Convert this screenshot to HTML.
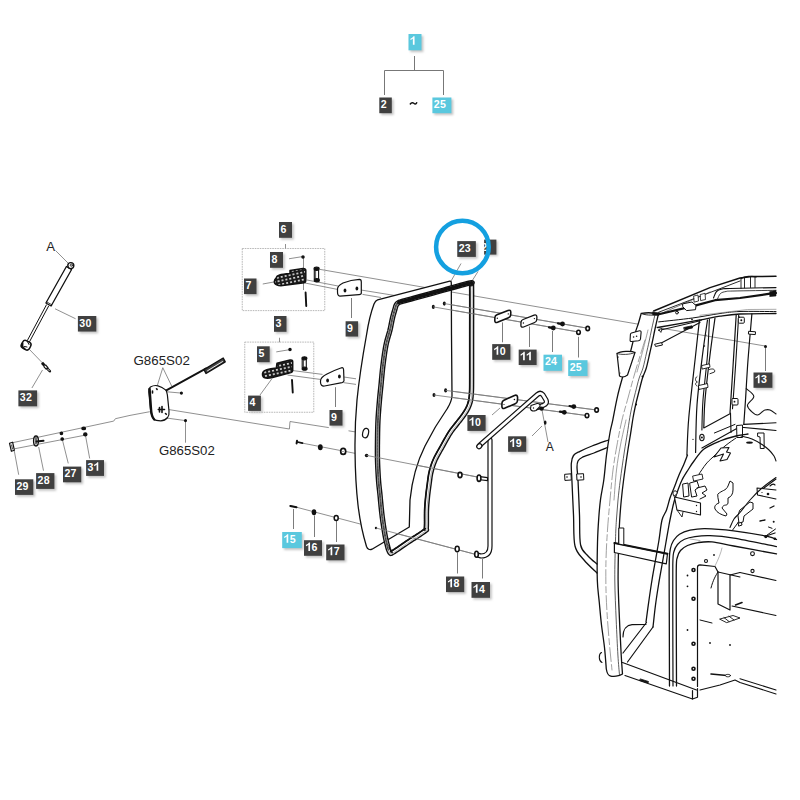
<!DOCTYPE html>
<html><head><meta charset="utf-8"><style>
html,body{margin:0;padding:0;background:#fff;width:800px;height:800px;overflow:hidden}
svg{display:block}
.lt{font-family:"Liberation Sans",sans-serif;font-size:11.8px;font-weight:bold;fill:#fff;text-anchor:start}
.tx{font-family:"Liberation Sans",sans-serif;fill:#222}
</style></head><body>
<svg width="800" height="800" viewBox="0 0 800 800">
<defs><filter id="blur" x="-20%" y="-20%" width="140%" height="140%"><feGaussianBlur stdDeviation="0.8"/></filter>
<pattern id="grid" width="4" height="3.6" patternUnits="userSpaceOnUse" patternTransform="rotate(-12)"><rect width="4" height="3.6" fill="#1a1a1a"/><rect x="1.1" y="1" width="1.8" height="1.5" fill="#fff"/></pattern>
<clipPath id="clip23b"><rect x="484.1" y="239.6" width="12.3" height="15"/></clipPath></defs>
<g fill="none" stroke="#7c7c7c" stroke-width="0.85">
<!-- top tree -->
<path d="M414.5,56 V70.5 M384.5,70.5 H443.5 M384.5,70.5 V95 M443.5,70.5 V95" stroke="#777" stroke-width="1"/>
<!-- strut leaders -->
<path d="M55.6,250.6 L68.1,263.1 M55,308.75 L75.6,318.75 M29.4,349.4 L42.5,363 M42.5,370 L31.9,388"/>
<!-- sensor -->
<path d="M162.8,367.7 L157.3,385.6 M162.8,367.7 L171.8,386.3 M167,391.8 L181.4,393.1 M166.3,418 L185.5,420.6 L185.5,442.7"/>
<path d="M169,409.6 L289.4,429 L290,421.5 L328.8,427.6 M348.5,430.8 L357,432.2"/>
<path d="M13,442.6 L113.7,421.1 L115.4,418.7 L130,415.4 L149.8,411.7"/>
<path d="M14.6,448.75 L86,435 M14.3,451 L18.7,474.75 M38.7,447 L43.5,470.7 M62.2,439 L68.25,463.4 M85.3,434.4 L89.7,458.5"/>
<!-- pedal boxes -->
<rect x="242.25" y="248.5" width="82.5" height="62.1" stroke-dasharray="1.6,0.9" stroke="#999" stroke-width="0.7"/>
<rect x="244.75" y="342.1" width="69" height="70.15" stroke-dasharray="1.6,0.9" stroke="#999" stroke-width="0.7"/>
<path d="M285.5,244 V248.5 M289,258.75 L302.5,256.6 M303.5,257 V290 M262.75,284 L273.75,282"/>
<path d="M279.5,337.75 V342.25 M276.25,351.9 L290,349.6 M271.9,378.75 L260,395"/>
<!-- long lines from pedal box 1 -->
<path d="M320,269.4 L765,346"/>
<path d="M307,280 L338,286 M361,290 L398,296"/>
<path d="M305,283 L337.5,289.4 M362.5,294.4 L381,297.5"/>
<!-- lower pedal lines -->
<path d="M293,370.6 L322.5,374.4 M287.5,375 L320.2,379.4 M343.9,377 L356,378.8 M343.9,382.7 L356,384.4"/>
<path stroke-width="1" d="M351.5,298 V318 M335.5,387.2 V407"/>
<!-- door hole lines -->
<path d="M444.6,303.6 L587.5,328.2 M433.3,306.9 L578.5,332"/>
<path d="M445.6,390.4 L596.6,410 M434,395 L587,415.6"/>
<path d="M296.5,442 L482.5,478 M290,505.5 L476,554.5"/>
<!-- leaders right -->
<path stroke-width="1" d="M502.5,322.4 V342.3 M529.5,326.5 V347 M552.5,331 V352 M578.5,336.8 V357.5 M765.5,348 V371"/>
<path d="M500,408 L492,415 M532,436 L542,426 M542,410 L548,442"/>
<path stroke-width="1" d="M293.5,509 V529 M314.5,515.5 V537 M336.5,521 V542 M457.5,552.5 V573.5 M482.5,559 V578.5"/>
<path d="M461,263.5 L450.5,282 M478,271.5 L472,281"/>

</g>
<g fill="none" stroke="#111" stroke-width="1.3" stroke-linejoin="round" stroke-linecap="round">
<!-- strut 30 -->
<path d="M71.6,269.5 L66.4,266.5 L45.9,303 L51.1,306 Z" fill="#fff"/>
<path d="M46.6,301.8 L51.8,304.8" stroke-width="0.8"/>
<circle cx="70.8" cy="265.6" r="3" fill="#fff" stroke-width="1.4"/>
<circle cx="71.3" cy="265.2" r="1.1" stroke-width="0.8"/>
<path d="M48.6,306.1 L29.6,341.6 M46.4,304.9 L27.4,340.4" stroke-width="1"/>
<rect x="21.6" y="341" width="9" height="8.4" rx="3" transform="rotate(28 26.1 345.2)" fill="#fff" stroke-width="1.5"/>
<path d="M22.5,343.5 C22,346 23,348 24.5,348.6" stroke-width="2"/>
<path d="M27.5,341.8 L29,344.5 M24.5,346.5 L27,347" stroke-width="1"/>
<path d="M42,362.8 L44.5,365.5" stroke-width="2.8" stroke-linecap="butt"/>
<path d="M44.5,365.5 L47.3,368.6" stroke-width="3.6" stroke-linecap="butt"/>
<path d="M45.2,366.3 L46.7,368" stroke="#fff" stroke-width="1.2"/>
<path d="M47.3,368.6 L49.8,371.2" stroke-width="2.6" stroke-linecap="round"/>
<path d="M47.8,369.2 L49.3,370.7" stroke="#fff" stroke-width="0.8"/>
<!-- sensor G865S02 -->
<path d="M150.4,387 C153,385.5 156,385.3 158,385.8 C161,386.5 164,388.5 166.3,390.4 C167.5,394 167.8,397 168,401 L169,411 C169.3,414 168.8,416 167.6,417.5 C165.5,420 163,420.8 160.8,420.8 C157.5,420.8 155,420.3 153.9,419.3 C151.5,416 150.6,412 150.4,408.3 L148.8,392 C148.6,389.5 149.2,388 150.4,387 Z" fill="#fff" stroke-width="1.2"/>
<path d="M149.6,389 L151,409 C151.3,414 152.3,417.5 154.2,419.5" stroke-width="2.4"/>
<path d="M158.3,409.5 L164.5,409.5 M159.5,407.5 L159.5,412 M162,406.5 L162,412.5 M152.5,393 L152.5,391 M165.5,413.5 l0.8,0.8 M156.5,388.8 l0.6,0.6" stroke-width="1.6"/>
<path d="M166.3,390.4 L206.2,368.4" stroke-width="1.9"/>
<path d="M206,373.5 L204,369.6 L223.2,358 L225.2,361.9 Z" fill="#444" stroke-width="1.4"/>
<path d="M207.5,370.8 L222.5,361.6" stroke="#fff" stroke-width="0.9"/>
<circle cx="181.4" cy="393.1" r="0.9" fill="#111"/>
<circle cx="185.5" cy="420.6" r="0.9" fill="#111"/>
<!-- 29 28 27 31 -->
<path d="M9.5,443.2 L12.6,442.2 L14.4,450.3 L11.4,451.3 Z" fill="#fff" stroke-width="1.2"/>
<path d="M11.6,445 L12.5,449" stroke-width="0.8"/>
<ellipse cx="36" cy="441" rx="2.4" ry="5" fill="#fff" stroke-width="1.4"/>
<path d="M36.5,441.5 L43.5,440.8" stroke-width="2"/>
<path d="M36,437.5 L36,444" stroke-width="1.2"/>
<circle cx="61.4" cy="433.3" r="1.2" fill="#111"/>
<circle cx="62.2" cy="439" r="1.2" fill="#111"/>
<ellipse cx="83.7" cy="428.4" rx="1.8" ry="1.3" fill="#111"/>
<ellipse cx="85.3" cy="434.4" rx="1.6" ry="1.4" fill="#111"/>
<!-- pedal 7 -->
<path d="M276,278 C277,275 280,274.5 290,273.6 L290,270.6 L303,268.6 C305,268.6 305.8,269.5 305.8,270.5 L305.8,280.5 C305.8,282 304,283 302.5,283.1 L282.5,285.6 C278,286 274,284.5 274.3,281.5 C274.4,280 275,279 276,278 Z" fill="url(#grid)" stroke-width="1.5"/>
<path d="M314.3,270 L314.3,279 M318.6,270 L318.6,279.5" stroke-width="1.1"/>
<path d="M315.6,270.5 L315.6,278.5" stroke-width="0.7"/>
<ellipse cx="316.6" cy="268.8" rx="2.5" ry="1.6" fill="#111"/>
<ellipse cx="316.8" cy="280.3" rx="2.5" ry="1.6" fill="#111"/>
<path d="M305.6,292.5 L306.25,306" stroke-width="1.9"/>
<circle cx="303" cy="257" r="1.1" fill="#111"/>
<!-- pedal 4 -->
<path d="M263,372 C264,370 267,369 276.3,368 L277,363.2 L290,360 C291.5,359.8 292.7,360.3 292.7,361.5 L292.7,370.5 C292.7,371.5 292,372.3 291,372.6 L272.5,377.5 C268,378.5 263.5,378.5 262.6,375.5 C262.3,374.3 262.5,373 263,372 Z" fill="url(#grid)" stroke-width="1.5"/>
<path d="M302.2,359.3 L302.2,367.3 M306.3,359.3 L306.3,367.8" stroke-width="1.1"/>
<path d="M303.5,359.8 L303.5,367" stroke-width="0.7"/>
<ellipse cx="304.4" cy="358.3" rx="2.4" ry="1.5" fill="#111"/>
<ellipse cx="304.6" cy="368.7" rx="2.4" ry="1.5" fill="#111"/>
<path d="M292,380 L292.75,392.5" stroke-width="1.9"/>
<circle cx="290" cy="349.6" r="1.1" fill="#111"/>
<!-- plates 9 -->
<path d="M337.5,290 C337,287 339,285 343,283 C349,280.5 355,279.5 359.5,279.3 C361,279.3 361.3,280.5 361.3,282 L361.3,293 C361.3,294.2 360.5,294.5 359,294.6 L340,296.2 C338.3,296.3 337.5,294.5 337.5,292 Z" fill="#fff" stroke-width="1.2"/>
<ellipse cx="345" cy="290.6" rx="1.4" ry="2" fill="#111" stroke="none"/>
<ellipse cx="356.9" cy="288.5" rx="1.4" ry="2" fill="#111" stroke="none"/>
<path d="M320.5,381 C320.5,378 323,376 327,374 C333,371 338,369 341.5,367.8 C343,367.4 343.5,368.5 343.6,370 L344,380.5 C344,381.8 343.3,382.3 342,382.6 L324.5,386 C322,386.3 320.5,385 320.5,382 Z" fill="#fff" stroke-width="1.2"/>
<ellipse cx="327.6" cy="380.5" rx="1.4" ry="2" fill="#111" stroke="none"/>
<ellipse cx="339.4" cy="376.6" rx="1.4" ry="2" fill="#111" stroke="none"/>

</g>
<g fill="none" stroke="#111" stroke-width="1.3" stroke-linejoin="round" stroke-linecap="round">
<path d="M377.6,299.8 L449.8,281.2 C451,281 451.3,282 451.3,283.3 L451.5,335 L452,396 C451.5,402 449.5,405 447,409 C440,419 432,432 425,446 C417,462 412,480 410,500 L409.3,527 L372,549.2 C369.5,550.5 367.5,549 366.5,546.5 C363,535 360,522 358,505 C356,488 355.2,470 355,450 C354.8,430 355.6,415 357,400 C359,380 362,360 366.5,335 C368.5,322 371,312 374,304 C375,301.5 376,300.3 377.6,299.8 Z" fill="#fff" stroke-width="1.3"/>
<path d="M398.50,302.80 L398.73,302.65 L398.80,302.56 L398.78,302.51 L398.77,302.47 L398.82,302.42 L399.04,302.34 L399.48,302.20 L400.24,301.98 L401.39,301.66 L403.00,301.20 L405.15,300.60 L407.78,299.87 L410.81,299.04 L414.15,298.13 L417.72,297.16 L421.43,296.16 L425.20,295.13 L428.94,294.12 L432.57,293.13 L436.00,292.20 L439.44,291.26 L443.10,290.24 L446.88,289.18 L450.69,288.12 L454.44,287.07 L458.03,286.08 L461.38,285.16 L464.38,284.36 L466.96,283.69 L469.00,283.20 L470.46,282.88 L471.41,282.72 L471.92,282.69 L472.10,282.77 L472.02,282.93 L471.79,283.15 L471.48,283.42 L471.19,283.69 L471.00,283.96 L471.00,284.20 L471.12,284.24 L471.22,284.01 L471.30,283.63 L471.37,283.23 L471.43,282.94 L471.47,282.89 L471.51,283.19 L471.54,283.97 L471.57,285.37 L471.60,287.50 L471.62,290.47 L471.64,294.21 L471.64,298.58 L471.64,303.44 L471.64,308.64 L471.63,314.06 L471.62,319.54 L471.61,324.95 L471.60,330.15 L471.60,335.00 L471.60,339.75 L471.60,344.69 L471.61,349.72 L471.61,354.76 L471.61,359.72 L471.61,364.50 L471.61,369.00 L471.61,373.15 L471.61,376.85 L471.60,380.00 L471.59,382.55 L471.58,384.58 L471.57,386.15 L471.56,387.37 L471.55,388.31 L471.53,389.07 L471.51,389.73 L471.48,390.38 L471.45,391.11 L471.40,392.00 L471.35,392.97 L471.29,393.89 L471.24,394.76 L471.17,395.58 L471.10,396.38 L471.02,397.14 L470.93,397.87 L470.83,398.59 L470.72,399.30 L470.60,400.00 L470.47,400.68 L470.32,401.34 L470.16,401.96 L470.00,402.57 L469.83,403.16 L469.64,403.73 L469.44,404.30 L469.24,404.86 L469.03,405.43 L468.80,406.00 L468.57,406.57 L468.33,407.12 L468.09,407.66 L467.83,408.19 L467.57,408.72 L467.29,409.25 L467.00,409.79 L466.68,410.34 L466.35,410.91 L466.00,411.50 L465.62,412.11 L465.22,412.73 L464.81,413.36 L464.37,414.00 L463.92,414.66 L463.45,415.32 L462.98,415.98 L462.49,416.65 L462.00,417.33 L461.50,418.00 L460.99,418.68 L460.47,419.35 L459.94,420.03 L459.40,420.72 L458.84,421.41 L458.28,422.10 L457.72,422.81 L457.15,423.53 L456.57,424.26 L456.00,425.00 L455.43,425.73 L454.86,426.44 L454.30,427.14 L453.73,427.84 L453.16,428.56 L452.57,429.32 L451.96,430.13 L451.34,431.00 L450.68,431.95 L450.00,433.00 L449.28,434.16 L448.51,435.43 L447.72,436.79 L446.90,438.22 L446.06,439.69 L445.22,441.18 L444.39,442.68 L443.57,444.17 L442.77,445.61 L442.00,447.00 L441.25,448.35 L440.49,449.68 L439.73,451.00 L438.98,452.32 L438.25,453.62 L437.54,454.92 L436.85,456.20 L436.19,457.48 L435.57,458.75 L435.00,460.00 L434.47,461.24 L433.98,462.45 L433.52,463.64 L433.09,464.82 L432.69,466.00 L432.31,467.18 L431.96,468.36 L431.62,469.55 L431.31,470.76 L431.00,472.00 L430.72,473.26 L430.46,474.55 L430.24,475.86 L430.03,477.18 L429.84,478.50 L429.67,479.82 L429.50,481.14 L429.34,482.45 L429.17,483.74 L429.00,485.00 L428.83,486.24 L428.66,487.45 L428.50,488.64 L428.34,489.82 L428.19,491.00 L428.04,492.18 L427.90,493.36 L427.76,494.55 L427.63,495.76 L427.50,497.00 L427.38,498.24 L427.26,499.46 L427.14,500.68 L427.03,501.91 L426.92,503.16 L426.82,504.43 L426.73,505.74 L426.64,507.10 L426.57,508.51 L426.50,510.00 L426.45,511.63 L426.43,513.44 L426.42,515.36 L426.42,517.35 L426.43,519.34 L426.44,521.29 L426.43,523.14 L426.41,524.82 L426.37,526.30 L426.30,527.50 L426.27,528.39 L426.31,528.98 L426.40,529.36 L426.48,529.57 L426.52,529.69 L426.49,529.77 L426.34,529.88 L426.04,530.08 L425.54,530.43 L424.80,531.00 L423.80,531.77 L422.56,532.65 L421.12,533.63 L419.52,534.68 L417.81,535.79 L416.02,536.94 L414.21,538.11 L412.40,539.27 L410.65,540.41 L409.00,541.50 L407.35,542.61 L405.60,543.81 L403.80,545.04 L401.98,546.29 L400.18,547.52 L398.45,548.71 L396.83,549.81 L395.35,550.79 L394.06,551.64 L393.00,552.30 L392.19,552.78 L391.59,553.12 L391.18,553.33 L390.92,553.42 L390.76,553.43 L390.68,553.37 L390.62,553.25 L390.57,553.11 L390.47,552.95 L390.30,552.80 L390.08,552.62 L389.87,552.39 L389.67,552.10 L389.48,551.76 L389.29,551.40 L389.12,551.02 L388.95,550.62 L388.79,550.23 L388.64,549.86 L388.50,549.50 L388.37,549.19 L388.27,548.93 L388.19,548.70 L388.11,548.47 L388.04,548.23 L387.97,547.95 L387.89,547.61 L387.78,547.18 L387.66,546.65 L387.50,546.00 L387.31,545.24 L387.10,544.42 L386.88,543.53 L386.63,542.57 L386.38,541.53 L386.11,540.41 L385.83,539.20 L385.56,537.90 L385.28,536.50 L385.00,535.00 L384.72,533.36 L384.42,531.58 L384.11,529.66 L383.79,527.65 L383.47,525.56 L383.15,523.43 L382.84,521.28 L382.54,519.14 L382.26,517.04 L382.00,515.00 L381.76,512.98 L381.53,510.92 L381.31,508.84 L381.10,506.76 L380.91,504.69 L380.72,502.64 L380.53,500.63 L380.35,498.68 L380.18,496.80 L380.00,495.00 L379.83,493.32 L379.66,491.76 L379.50,490.29 L379.34,488.88 L379.19,487.50 L379.04,486.12 L378.90,484.71 L378.76,483.24 L378.63,481.68 L378.50,480.00 L378.38,478.20 L378.25,476.32 L378.13,474.37 L378.02,472.36 L377.91,470.31 L377.80,468.24 L377.71,466.16 L377.63,464.08 L377.56,462.02 L377.50,460.00 L377.46,458.00 L377.43,456.00 L377.41,454.00 L377.40,452.00 L377.41,450.00 L377.42,448.00 L377.43,446.00 L377.45,444.00 L377.48,442.00 L377.50,440.00 L377.53,438.00 L377.55,436.00 L377.58,434.00 L377.62,432.00 L377.66,430.00 L377.70,428.00 L377.76,426.00 L377.83,424.00 L377.91,422.00 L378.00,420.00 L378.11,417.98 L378.24,415.92 L378.38,413.84 L378.53,411.76 L378.69,409.69 L378.85,407.64 L379.02,405.63 L379.18,403.68 L379.35,401.80 L379.50,400.00 L379.65,398.32 L379.79,396.76 L379.93,395.29 L380.08,393.88 L380.22,392.50 L380.36,391.12 L380.51,389.71 L380.67,388.24 L380.83,386.68 L381.00,385.00 L381.18,383.20 L381.35,381.32 L381.53,379.37 L381.72,377.36 L381.91,375.31 L382.10,373.24 L382.31,371.16 L382.53,369.08 L382.76,367.02 L383.00,365.00 L383.26,362.98 L383.52,360.92 L383.79,358.84 L384.08,356.76 L384.38,354.69 L384.68,352.64 L385.00,350.63 L385.32,348.68 L385.66,346.80 L386.00,345.00 L386.37,343.28 L386.76,341.63 L387.17,340.04 L387.60,338.50 L388.03,337.00 L388.46,335.54 L388.88,334.12 L389.28,332.73 L389.66,331.36 L390.00,330.00 L390.31,328.67 L390.60,327.36 L390.86,326.08 L391.11,324.84 L391.34,323.62 L391.57,322.44 L391.80,321.28 L392.02,320.16 L392.26,319.06 L392.50,318.00 L392.76,316.96 L393.02,315.93 L393.29,314.92 L393.56,313.94 L393.82,313.00 L394.09,312.10 L394.34,311.24 L394.58,310.43 L394.80,309.68 L395.00,309.00 L395.17,308.39 L395.32,307.85 L395.45,307.38 L395.56,306.95 L395.67,306.57 L395.77,306.23 L395.88,305.91 L396.00,305.60 L396.14,305.30 L396.30,305.00 L396.47,304.70 L396.65,304.44 L396.82,304.19 L397.00,303.96 L397.20,303.75 L397.41,303.55 L397.64,303.36 L397.90,303.17 L398.18,302.99 Z" stroke-width="5.4"/>
<path d="M398.50,302.80 L398.73,302.65 L398.80,302.56 L398.78,302.51 L398.77,302.47 L398.82,302.42 L399.04,302.34 L399.48,302.20 L400.24,301.98 L401.39,301.66 L403.00,301.20 L405.15,300.60 L407.78,299.87 L410.81,299.04 L414.15,298.13 L417.72,297.16 L421.43,296.16 L425.20,295.13 L428.94,294.12 L432.57,293.13 L436.00,292.20 L439.44,291.26 L443.10,290.24 L446.88,289.18 L450.69,288.12 L454.44,287.07 L458.03,286.08 L461.38,285.16 L464.38,284.36 L466.96,283.69 L469.00,283.20 L470.46,282.88 L471.41,282.72 L471.92,282.69 L472.10,282.77 L472.02,282.93 L471.79,283.15 L471.48,283.42 L471.19,283.69 L471.00,283.96 L471.00,284.20 L471.12,284.24 L471.22,284.01 L471.30,283.63 L471.37,283.23 L471.43,282.94 L471.47,282.89 L471.51,283.19 L471.54,283.97 L471.57,285.37 L471.60,287.50 L471.62,290.47 L471.64,294.21 L471.64,298.58 L471.64,303.44 L471.64,308.64 L471.63,314.06 L471.62,319.54 L471.61,324.95 L471.60,330.15 L471.60,335.00 L471.60,339.75 L471.60,344.69 L471.61,349.72 L471.61,354.76 L471.61,359.72 L471.61,364.50 L471.61,369.00 L471.61,373.15 L471.61,376.85 L471.60,380.00 L471.59,382.55 L471.58,384.58 L471.57,386.15 L471.56,387.37 L471.55,388.31 L471.53,389.07 L471.51,389.73 L471.48,390.38 L471.45,391.11 L471.40,392.00 L471.35,392.97 L471.29,393.89 L471.24,394.76 L471.17,395.58 L471.10,396.38 L471.02,397.14 L470.93,397.87 L470.83,398.59 L470.72,399.30 L470.60,400.00 L470.47,400.68 L470.32,401.34 L470.16,401.96 L470.00,402.57 L469.83,403.16 L469.64,403.73 L469.44,404.30 L469.24,404.86 L469.03,405.43 L468.80,406.00 L468.57,406.57 L468.33,407.12 L468.09,407.66 L467.83,408.19 L467.57,408.72 L467.29,409.25 L467.00,409.79 L466.68,410.34 L466.35,410.91 L466.00,411.50 L465.62,412.11 L465.22,412.73 L464.81,413.36 L464.37,414.00 L463.92,414.66 L463.45,415.32 L462.98,415.98 L462.49,416.65 L462.00,417.33 L461.50,418.00 L460.99,418.68 L460.47,419.35 L459.94,420.03 L459.40,420.72 L458.84,421.41 L458.28,422.10 L457.72,422.81 L457.15,423.53 L456.57,424.26 L456.00,425.00 L455.43,425.73 L454.86,426.44 L454.30,427.14 L453.73,427.84 L453.16,428.56 L452.57,429.32 L451.96,430.13 L451.34,431.00 L450.68,431.95 L450.00,433.00 L449.28,434.16 L448.51,435.43 L447.72,436.79 L446.90,438.22 L446.06,439.69 L445.22,441.18 L444.39,442.68 L443.57,444.17 L442.77,445.61 L442.00,447.00 L441.25,448.35 L440.49,449.68 L439.73,451.00 L438.98,452.32 L438.25,453.62 L437.54,454.92 L436.85,456.20 L436.19,457.48 L435.57,458.75 L435.00,460.00 L434.47,461.24 L433.98,462.45 L433.52,463.64 L433.09,464.82 L432.69,466.00 L432.31,467.18 L431.96,468.36 L431.62,469.55 L431.31,470.76 L431.00,472.00 L430.72,473.26 L430.46,474.55 L430.24,475.86 L430.03,477.18 L429.84,478.50 L429.67,479.82 L429.50,481.14 L429.34,482.45 L429.17,483.74 L429.00,485.00 L428.83,486.24 L428.66,487.45 L428.50,488.64 L428.34,489.82 L428.19,491.00 L428.04,492.18 L427.90,493.36 L427.76,494.55 L427.63,495.76 L427.50,497.00 L427.38,498.24 L427.26,499.46 L427.14,500.68 L427.03,501.91 L426.92,503.16 L426.82,504.43 L426.73,505.74 L426.64,507.10 L426.57,508.51 L426.50,510.00 L426.45,511.63 L426.43,513.44 L426.42,515.36 L426.42,517.35 L426.43,519.34 L426.44,521.29 L426.43,523.14 L426.41,524.82 L426.37,526.30 L426.30,527.50 L426.27,528.39 L426.31,528.98 L426.40,529.36 L426.48,529.57 L426.52,529.69 L426.49,529.77 L426.34,529.88 L426.04,530.08 L425.54,530.43 L424.80,531.00 L423.80,531.77 L422.56,532.65 L421.12,533.63 L419.52,534.68 L417.81,535.79 L416.02,536.94 L414.21,538.11 L412.40,539.27 L410.65,540.41 L409.00,541.50 L407.35,542.61 L405.60,543.81 L403.80,545.04 L401.98,546.29 L400.18,547.52 L398.45,548.71 L396.83,549.81 L395.35,550.79 L394.06,551.64 L393.00,552.30 L392.19,552.78 L391.59,553.12 L391.18,553.33 L390.92,553.42 L390.76,553.43 L390.68,553.37 L390.62,553.25 L390.57,553.11 L390.47,552.95 L390.30,552.80 L390.08,552.62 L389.87,552.39 L389.67,552.10 L389.48,551.76 L389.29,551.40 L389.12,551.02 L388.95,550.62 L388.79,550.23 L388.64,549.86 L388.50,549.50 L388.37,549.19 L388.27,548.93 L388.19,548.70 L388.11,548.47 L388.04,548.23 L387.97,547.95 L387.89,547.61 L387.78,547.18 L387.66,546.65 L387.50,546.00 L387.31,545.24 L387.10,544.42 L386.88,543.53 L386.63,542.57 L386.38,541.53 L386.11,540.41 L385.83,539.20 L385.56,537.90 L385.28,536.50 L385.00,535.00 L384.72,533.36 L384.42,531.58 L384.11,529.66 L383.79,527.65 L383.47,525.56 L383.15,523.43 L382.84,521.28 L382.54,519.14 L382.26,517.04 L382.00,515.00 L381.76,512.98 L381.53,510.92 L381.31,508.84 L381.10,506.76 L380.91,504.69 L380.72,502.64 L380.53,500.63 L380.35,498.68 L380.18,496.80 L380.00,495.00 L379.83,493.32 L379.66,491.76 L379.50,490.29 L379.34,488.88 L379.19,487.50 L379.04,486.12 L378.90,484.71 L378.76,483.24 L378.63,481.68 L378.50,480.00 L378.38,478.20 L378.25,476.32 L378.13,474.37 L378.02,472.36 L377.91,470.31 L377.80,468.24 L377.71,466.16 L377.63,464.08 L377.56,462.02 L377.50,460.00 L377.46,458.00 L377.43,456.00 L377.41,454.00 L377.40,452.00 L377.41,450.00 L377.42,448.00 L377.43,446.00 L377.45,444.00 L377.48,442.00 L377.50,440.00 L377.53,438.00 L377.55,436.00 L377.58,434.00 L377.62,432.00 L377.66,430.00 L377.70,428.00 L377.76,426.00 L377.83,424.00 L377.91,422.00 L378.00,420.00 L378.11,417.98 L378.24,415.92 L378.38,413.84 L378.53,411.76 L378.69,409.69 L378.85,407.64 L379.02,405.63 L379.18,403.68 L379.35,401.80 L379.50,400.00 L379.65,398.32 L379.79,396.76 L379.93,395.29 L380.08,393.88 L380.22,392.50 L380.36,391.12 L380.51,389.71 L380.67,388.24 L380.83,386.68 L381.00,385.00 L381.18,383.20 L381.35,381.32 L381.53,379.37 L381.72,377.36 L381.91,375.31 L382.10,373.24 L382.31,371.16 L382.53,369.08 L382.76,367.02 L383.00,365.00 L383.26,362.98 L383.52,360.92 L383.79,358.84 L384.08,356.76 L384.38,354.69 L384.68,352.64 L385.00,350.63 L385.32,348.68 L385.66,346.80 L386.00,345.00 L386.37,343.28 L386.76,341.63 L387.17,340.04 L387.60,338.50 L388.03,337.00 L388.46,335.54 L388.88,334.12 L389.28,332.73 L389.66,331.36 L390.00,330.00 L390.31,328.67 L390.60,327.36 L390.86,326.08 L391.11,324.84 L391.34,323.62 L391.57,322.44 L391.80,321.28 L392.02,320.16 L392.26,319.06 L392.50,318.00 L392.76,316.96 L393.02,315.93 L393.29,314.92 L393.56,313.94 L393.82,313.00 L394.09,312.10 L394.34,311.24 L394.58,310.43 L394.80,309.68 L395.00,309.00 L395.17,308.39 L395.32,307.85 L395.45,307.38 L395.56,306.95 L395.67,306.57 L395.77,306.23 L395.88,305.91 L396.00,305.60 L396.14,305.30 L396.30,305.00 L396.47,304.70 L396.65,304.44 L396.82,304.19 L397.00,303.96 L397.20,303.75 L397.41,303.55 L397.64,303.36 L397.90,303.17 L398.18,302.99 Z" stroke="#fff" stroke-width="2.6"/>
<path d="M470.49,285.82 L472.25,285.51 L472.85,284.49 L472.97,283.95 L473.04,283.53 L473.06,283.42 L469.86,283.43 L469.81,283.30 L469.84,284.02 L469.87,285.40 L469.90,287.52 L469.92,290.48 L469.94,294.22 L469.94,298.58 L469.94,303.44 L469.94,308.64 L469.93,314.06 L469.92,319.54 L469.91,324.95 L469.90,330.15 L469.90,335.00 L469.90,339.75 L469.90,344.69 L469.91,349.72 L469.91,354.77 L469.91,359.72 L469.91,364.50 L469.91,369.00 L469.91,373.15 L469.91,376.84 L469.90,379.99 L469.89,382.55 L469.88,384.57 L469.87,386.14 L469.86,387.35 L469.85,388.28 L469.83,389.02 L469.81,389.67 L469.78,390.30 L469.75,391.02 L469.70,391.91 L469.65,392.88 L469.60,393.78 L469.54,394.63 L469.48,395.44 L469.41,396.21 L469.33,396.95 L469.25,397.66 L469.15,398.35 L469.05,399.02 L468.93,399.69 L468.80,400.33 L468.66,400.95 L468.52,401.54 L468.37,402.10 L468.20,402.65 L468.03,403.20 L467.84,403.73 L467.65,404.27 L467.44,404.82 L467.22,405.37 L467.00,405.91 L466.78,406.43 L466.55,406.94 L466.31,407.44 L466.05,407.95 L465.79,408.45 L465.51,408.97 L465.21,409.50 L464.89,410.05 L464.55,410.61 L464.19,411.20 L463.80,411.80 L463.39,412.41 L462.97,413.04 L462.53,413.68 L462.07,414.33 L461.60,414.99 L461.12,415.65 L460.63,416.32 L460.14,416.98 L459.64,417.65 L459.13,418.31 L458.60,418.98 L458.07,419.66 L457.52,420.34 L456.96,421.04 L456.39,421.75 L455.81,422.47 L455.23,423.21 L454.66,423.96 L454.09,424.68 L453.54,425.37 L452.98,426.07 L452.41,426.78 L451.82,427.51 L451.22,428.29 L450.59,429.12 L449.94,430.02 L449.27,431.01 L448.57,432.09 L447.83,433.27 L447.05,434.56 L446.25,435.94 L445.42,437.37 L444.58,438.85 L443.74,440.36 L442.90,441.86 L442.08,443.34 L441.28,444.79 L440.52,446.17 L439.77,447.51 L439.01,448.84 L438.25,450.16 L437.50,451.48 L436.76,452.80 L436.04,454.11 L435.34,455.41 L434.67,456.72 L434.04,458.02 L433.45,459.31 L432.90,460.58 L432.40,461.82 L431.92,463.05 L431.48,464.26 L431.07,465.47 L430.69,466.67 L430.33,467.89 L429.98,469.11 L429.66,470.34 L429.35,471.61 L429.05,472.91 L428.79,474.24 L428.56,475.58 L428.35,476.93 L428.16,478.27 L427.98,479.60 L427.81,480.93 L427.65,482.23 L427.49,483.51 L427.32,484.77 L427.14,486.00 L426.98,487.22 L426.81,488.42 L426.65,489.60 L426.50,490.78 L426.35,491.97 L426.21,493.16 L426.07,494.36 L425.94,495.58 L425.81,496.83 L425.68,498.07 L425.56,499.30 L425.45,500.53 L425.33,501.76 L425.22,503.02 L425.12,504.30 L425.03,505.62 L424.94,507.00 L424.87,508.43 L424.80,509.94 L424.75,511.60 L424.73,513.42 L424.72,515.36 L424.72,517.35 L424.73,519.35 L424.74,521.29 L424.73,523.13 L424.71,524.79 L424.67,526.23 L424.60,527.42 L424.57,528.40 L424.63,529.21 L424.76,529.83 L424.90,530.19 L424.83,529.79 L425.27,528.59 L425.39,528.47 L425.08,528.67 L424.52,529.07 L423.76,529.65 L422.79,530.40 L421.59,531.25 L420.17,532.21 L418.59,533.26 L416.88,534.37 L415.10,535.51 L413.29,536.68 L411.48,537.84 L409.72,538.98 L408.06,540.09 L406.39,541.21 L404.64,542.40 L402.83,543.64 L401.01,544.89 L399.22,546.12 L397.50,547.30 L395.88,548.40 L394.41,549.38 L393.15,550.20 L392.11,550.85 L391.33,551.32 L390.79,551.62 L390.49,551.78 L390.51,551.77 L391.15,551.77 L392.02,552.33 L392.20,552.61 L392.09,552.35 L391.75,551.83 L391.38,551.49 L391.26,551.40 L391.21,551.34 L391.11,551.19 L390.97,550.96 L390.83,550.67 L390.68,550.33 L390.52,549.97 L390.37,549.60 L390.22,549.22 L390.08,548.86 L389.95,548.56 L389.86,548.33 L389.80,548.15 L389.74,547.97 L389.68,547.78 L389.62,547.53 L389.54,547.21 L389.44,546.79 L389.31,546.26 L389.15,545.60" stroke-width="1.5"/>
<path d="M471.15,283.72 L470.79,283.86 L470.74,283.86 L470.81,283.53 L470.88,283.14 L470.94,282.80 L471.94,282.73 L472.01,283.16 L472.04,283.96 L472.07,285.36 L472.10,287.49 L472.12,290.47 L472.14,294.21 L472.14,298.58 L472.14,303.44 L472.14,308.64 L472.13,314.06 L472.12,319.54 L472.11,324.95 L472.10,330.15 L472.10,335.00 L472.10,339.75 L472.10,344.69 L472.11,349.72 L472.11,354.76 L472.11,359.72 L472.11,364.50 L472.11,369.00 L472.11,373.15 L472.11,376.85 L472.10,380.00 L472.09,382.56 L472.08,384.58 L472.07,386.15 L472.06,387.37 L472.05,388.32 L472.03,389.09 L472.01,389.75 L471.98,390.41 L471.94,391.14 L471.90,392.03 L471.85,393.00 L471.79,393.92 L471.73,394.79 L471.67,395.63 L471.60,396.42 L471.52,397.19 L471.43,397.94 L471.33,398.66 L471.22,399.38 L471.09,400.09 L470.95,400.79 L470.81,401.45 L470.65,402.09 L470.48,402.70 L470.30,403.30 L470.11,403.89 L469.92,404.47 L469.71,405.04 L469.49,405.61 L469.26,406.19 L469.03,406.76 L468.79,407.32 L468.54,407.87 L468.28,408.41 L468.01,408.95 L467.73,409.49 L467.43,410.03 L467.12,410.59 L466.78,411.17 L466.43,411.76 L466.05,412.37 L465.64,413.00 L465.22,413.64 L464.78,414.29 L464.33,414.94 L463.86,415.61 L463.38,416.27 L462.90,416.95 L462.40,417.62 L461.90,418.30 L461.39,418.98 L460.87,419.66 L460.33,420.34 L459.79,421.03 L459.23,421.72 L458.67,422.42 L458.11,423.12 L457.54,423.84 L456.97,424.56 L456.39,425.31 L455.82,426.04 L455.25,426.75 L454.69,427.45 L454.12,428.15 L453.55,428.87 L452.97,429.62 L452.37,430.42 L451.75,431.29 L451.10,432.23 L450.42,433.27 L449.70,434.42 L448.94,435.69 L448.15,437.04 L447.33,438.46 L446.50,439.93 L445.66,441.43 L444.83,442.93 L444.01,444.41 L443.21,445.86 L442.44,447.24 L441.68,448.59 L440.92,449.93 L440.17,451.25 L439.42,452.57 L438.69,453.87 L437.98,455.16 L437.29,456.44 L436.64,457.70 L436.03,458.96 L435.46,460.20 L434.93,461.43 L434.44,462.63 L433.98,463.82 L433.56,464.99 L433.16,466.16 L432.79,467.32 L432.44,468.50 L432.11,469.68 L431.79,470.89 L431.49,472.11 L431.21,473.37 L430.96,474.64 L430.73,475.94 L430.53,477.25 L430.34,478.57 L430.16,479.89 L430.00,481.20 L429.83,482.51 L429.67,483.80 L429.50,485.07 L429.32,486.30 L429.16,487.52 L428.99,488.71 L428.84,489.89 L428.68,491.06 L428.54,492.24 L428.39,493.42 L428.26,494.61 L428.12,495.82 L428.00,497.05 L427.87,498.29 L427.75,499.51 L427.64,500.73 L427.52,501.96 L427.42,503.20 L427.32,504.47 L427.22,505.77 L427.14,507.12 L427.06,508.54 L427.00,510.02 L426.95,511.64 L426.93,513.44 L426.92,515.36 L426.92,517.35 L426.93,519.34 L426.94,521.29 L426.93,523.14 L426.91,524.83 L426.87,526.32 L426.80,527.52 L426.77,528.38 L426.81,528.92 L426.88,529.22 L426.95,529.39 L427.02,529.66 L426.85,530.12 L426.62,530.29 L426.32,530.49 L425.83,530.83 L425.11,531.40 L424.10,532.17 L422.84,533.06 L421.40,534.04 L419.79,535.10 L418.08,536.21 L416.29,537.36 L414.48,538.53 L412.67,539.69 L410.93,540.82 L409.28,541.92 L407.63,543.03 L405.88,544.22 L404.08,545.45 L402.26,546.70 L400.46,547.94 L398.73,549.12 L397.11,550.22 L395.63,551.21 L394.33,552.06 L393.26,552.73 L392.44,553.22 L391.83,553.56 L391.39,553.78 L391.04,553.91 L390.65,553.92 L390.28,553.67 L390.16,553.44 L390.12,553.33 L390.10,553.28 L389.98,553.19 L389.73,552.99 L389.47,552.69 L389.25,552.36 L389.04,552.00 L388.84,551.62 L388.66,551.22 L388.49,550.82 L388.33,550.42 L388.18,550.04 L388.04,549.69 L387.91,549.38 L387.81,549.11 L387.72,548.86 L387.64,548.62 L387.56,548.36 L387.49,548.07 L387.40,547.73 L387.30,547.30 L387.17,546.77 L387.01,546.12" stroke="#666" stroke-width="0.5"/>
<path d="M388.50,549.50 L388.37,549.19 L388.27,548.93 L388.19,548.70 L388.11,548.47 L388.04,548.23 L387.97,547.95 L387.89,547.61 L387.78,547.18 L387.66,546.65 L387.50,546.00 L387.31,545.24 L387.10,544.42 L386.88,543.53 L386.63,542.57 L386.38,541.53 L386.11,540.41 L385.83,539.20 L385.56,537.90 L385.28,536.50 L385.00,535.00 L384.72,533.36 L384.42,531.58 L384.11,529.66 L383.79,527.65 L383.47,525.56 L383.15,523.43 L382.84,521.28 L382.54,519.14 L382.26,517.04 L382.00,515.00 L381.76,512.98 L381.53,510.92 L381.31,508.84 L381.10,506.76 L380.91,504.69 L380.72,502.64 L380.53,500.63 L380.35,498.68 L380.18,496.80 L380.00,495.00 L379.83,493.32 L379.66,491.76 L379.50,490.29 L379.34,488.88 L379.19,487.50 L379.04,486.12 L378.90,484.71 L378.76,483.24 L378.63,481.68 L378.50,480.00 L378.38,478.20 L378.25,476.32 L378.13,474.37 L378.02,472.36 L377.91,470.31 L377.80,468.24 L377.71,466.16 L377.63,464.08 L377.56,462.02 L377.50,460.00 L377.46,458.00 L377.43,456.00 L377.41,454.00 L377.40,452.00 L377.41,450.00 L377.42,448.00 L377.43,446.00 L377.45,444.00 L377.48,442.00 L377.50,440.00 L377.53,438.00 L377.55,436.00 L377.58,434.00 L377.62,432.00 L377.66,430.00 L377.70,428.00 L377.76,426.00 L377.83,424.00 L377.91,422.00 L378.00,420.00 L378.11,417.98 L378.24,415.92 L378.38,413.84 L378.53,411.76 L378.69,409.69 L378.85,407.64 L379.02,405.63 L379.18,403.68 L379.35,401.80 L379.50,400.00 L379.65,398.32 L379.79,396.76 L379.93,395.29 L380.08,393.88 L380.22,392.50 L380.36,391.12 L380.51,389.71 L380.67,388.24 L380.83,386.68 L381.00,385.00 L381.18,383.20 L381.35,381.32 L381.53,379.37 L381.72,377.36 L381.91,375.31 L382.10,373.24 L382.31,371.16 L382.53,369.08 L382.76,367.02 L383.00,365.00 L383.26,362.98 L383.52,360.92 L383.79,358.84 L384.08,356.76 L384.38,354.69 L384.68,352.64 L385.00,350.63 L385.32,348.68 L385.66,346.80 L386.00,345.00 L386.37,343.28 L386.76,341.63 L387.17,340.04 L387.60,338.50 L388.03,337.00 L388.46,335.54 L388.88,334.12 L389.28,332.73 L389.66,331.36 L390.00,330.00 L390.31,328.67 L390.60,327.36 L390.86,326.08 L391.11,324.84 L391.34,323.62 L391.57,322.44 L391.80,321.28 L392.02,320.16 L392.26,319.06 L392.50,318.00 L392.76,316.96 L393.02,315.93 L393.29,314.92 L393.56,313.94 L393.82,313.00 L394.09,312.10 L394.34,311.24 L394.58,310.43 L394.80,309.68 L395.00,309.00 L395.17,308.39 L395.32,307.85 L395.45,307.38 L395.56,306.95 L395.67,306.57 L395.77,306.23 L395.88,305.91 L396.00,305.60 L396.14,305.30 L396.30,305.00 L396.47,304.70 L396.65,304.44 L396.82,304.19 L397.00,303.96 L397.20,303.75 L397.41,303.55 L397.64,303.36 L397.90,303.17 L398.18,302.99 L398.50,302.80" stroke="#3a3a3a" stroke-width="1.9"/>
<path d="M388.69,549.42 L388.56,549.12 L388.46,548.86 L388.38,548.64 L388.31,548.42 L388.24,548.18 L388.16,547.90 L388.08,547.56 L387.98,547.14 L387.85,546.61 L387.69,545.95 L387.51,545.20 L387.30,544.37 L387.07,543.49 L386.83,542.52 L386.57,541.48 L386.30,540.36 L386.03,539.15 L385.75,537.86 L385.47,536.46 L385.20,534.96 L384.91,533.33 L384.61,531.54 L384.30,529.63 L383.99,527.62 L383.67,525.53 L383.35,523.40 L383.04,521.26 L382.74,519.12 L382.46,517.01 L382.20,514.98 L381.96,512.95 L381.73,510.90 L381.51,508.82 L381.30,506.74 L381.11,504.67 L380.92,502.62 L380.73,500.61 L380.55,498.66 L380.37,496.78 L380.20,494.98 L380.03,493.30 L379.86,491.74 L379.70,490.27 L379.54,488.86 L379.39,487.48 L379.24,486.10 L379.10,484.69 L378.96,483.22 L378.83,481.66 L378.70,479.99 L378.57,478.19 L378.45,476.31 L378.33,474.36 L378.22,472.35 L378.11,470.30 L378.00,468.23 L377.91,466.15 L377.83,464.07 L377.76,462.02 L377.70,460.00 L377.66,458.00 L377.63,456.00 L377.61,454.00 L377.60,452.00 L377.61,450.00 L377.62,448.00 L377.63,446.00 L377.65,444.00 L377.68,442.00 L377.70,440.00 L377.73,438.00 L377.75,436.00 L377.78,434.00 L377.82,432.00 L377.86,430.00 L377.90,428.01 L377.96,426.01 L378.03,424.01 L378.11,422.01 L378.20,420.01 L378.31,417.99 L378.44,415.93 L378.58,413.86 L378.73,411.77 L378.89,409.70 L379.05,407.66 L379.22,405.65 L379.38,403.70 L379.54,401.81 L379.70,400.02 L379.85,398.34 L379.99,396.78 L380.13,395.31 L380.27,393.90 L380.42,392.52 L380.56,391.14 L380.71,389.73 L380.87,388.26 L381.03,386.70 L381.20,385.02 L381.37,383.22 L381.55,381.34 L381.73,379.39 L381.92,377.38 L382.11,375.33 L382.30,373.26 L382.51,371.18 L382.73,369.10 L382.96,367.05 L383.20,365.02 L383.45,363.00 L383.72,360.95 L383.99,358.87 L384.28,356.79 L384.57,354.72 L384.88,352.67 L385.19,350.66 L385.52,348.71 L385.85,346.83 L386.20,345.04 L386.56,343.33 L386.95,341.68 L387.37,340.09 L387.79,338.55 L388.22,337.06 L388.65,335.60 L389.07,334.18 L389.47,332.78 L389.85,331.41 L390.19,330.05 L390.51,328.71 L390.79,327.40 L391.06,326.12 L391.30,324.88 L391.54,323.66 L391.77,322.48 L391.99,321.32 L392.22,320.20 L392.45,319.11 L392.69,318.05 L392.95,317.00 L393.21,315.98 L393.48,314.97 L393.75,314.00 L394.02,313.06 L394.28,312.15 L394.53,311.29 L394.77,310.49 L394.99,309.74 L395.19,309.06 L395.37,308.44 L395.52,307.90 L395.64,307.43 L395.76,307.01 L395.86,306.63 L395.96,306.29 L396.07,305.98 L396.19,305.68 L396.32,305.39 L396.47,305.10 L396.64,304.81 L396.81,304.55 L396.98,304.31 L397.16,304.09 L397.34,303.89 L397.54,303.70 L397.77,303.52 L398.01,303.34 L398.29,303.16 L398.60,302.97" stroke="#bbb" stroke-width="0.4" stroke-dasharray="1.5,1.5"/>
<path d="M398.78,302.51 L398.77,302.47 L398.82,302.42 L399.04,302.34 L399.48,302.20 L400.24,301.98 L401.39,301.66 L403.00,301.20 L405.15,300.60 L407.78,299.87 L410.81,299.04 L414.15,298.13 L417.72,297.16 L421.43,296.16 L425.20,295.13 L428.94,294.12 L432.57,293.13 L436.00,292.20 L439.44,291.26 L443.10,290.24 L446.88,289.18 L450.69,288.12 L454.44,287.07 L458.03,286.08 L461.38,285.16 L464.38,284.36 L466.96,283.69 L469.00,283.20 L470.46,282.88 L471.41,282.72 L471.92,282.69 L472.10,282.77 L472.02,282.93 L471.79,283.15 L471.48,283.42" stroke-width="3.4"/>
<path d="M399.33,302.26 L399.30,302.74 L399.08,302.97 L399.23,302.91 L399.65,302.78 L400.41,302.56 L401.55,302.23 L403.16,301.78 L405.31,301.18 L407.94,300.45 L410.96,299.62 L414.31,298.71 L417.88,297.74 L421.59,296.73 L425.36,295.71 L429.10,294.70 L432.73,293.71 L436.16,292.78 L439.60,291.83 L443.26,290.82 L447.04,289.76 L450.85,288.70 L454.60,287.65 L458.19,286.66 L461.54,285.74 L464.54,284.94 L467.10,284.28 L469.14,283.78 L470.58,283.47 L471.48,283.32 L471.88,283.29 L471.55,283.01 L471.56,282.55 L471.39,282.71 L471.09,282.96" stroke-width="1.0"/>
<path d="M398.15,302.80 L398.14,302.16 L398.53,301.79 L398.82,301.68 L399.28,301.53 L400.05,301.31 L401.19,300.98 L402.81,300.53 L404.96,299.93 L407.59,299.20 L410.62,298.37 L413.96,297.46 L417.54,296.49 L421.25,295.48 L425.02,294.46 L428.76,293.44 L432.39,292.46 L435.82,291.52 L439.25,290.58 L442.91,289.57 L446.69,288.51 L450.50,287.45 L454.25,286.40 L457.85,285.41 L461.20,284.49 L464.21,283.68 L466.78,283.02 L468.84,282.52 L470.33,282.20 L471.32,282.03 L471.97,281.99 L472.74,282.49 L472.57,283.37 L472.25,283.68 L471.93,283.95" stroke-width="0.8"/>
<ellipse cx="433.3" cy="306.9" rx="1.5" ry="2.1" fill="#111" stroke="none"/>
<ellipse cx="444.3" cy="303.6" rx="1.5" ry="2.1" fill="#111" stroke="none"/>
<ellipse cx="434" cy="395" rx="1.5" ry="2.1" fill="#111" stroke="none"/>
<ellipse cx="445.6" cy="390.4" rx="1.5" ry="2.1" fill="#111" stroke="none"/>
<ellipse cx="365.6" cy="433.1" rx="2.9" ry="4.8" transform="rotate(13 365.6 433.1)" stroke-width="1.2"/>
<circle cx="366.6" cy="455.5" r="1.8" fill="#111" stroke="none"/>
<circle cx="376" cy="528" r="1.2" fill="#111" stroke="none"/>
</g>
<g fill="none" stroke="#7c7c7c" stroke-width="0.85">
<path d="M444.6,303.6 L587.5,328.2 M433.3,306.9 L578.5,332"/>
<path d="M445.6,390.4 L596.6,410 M434,395 L587,415.6"/>
<path d="M366.6,455.4 L482.5,478 M376,528 L476,554.5"/>

</g>
<g fill="none" stroke="#111" stroke-width="1.2" stroke-linejoin="round" stroke-linecap="round">
<path d="M641.20,313.40 C640.75,315.00 639.53,319.62 638.50,323.00 C637.47,326.38 636.33,328.92 635.00,333.70 C633.67,338.48 632.00,346.32 630.50,351.70 C629.00,357.08 627.33,361.70 626.00,366.00 C624.67,370.30 623.92,372.45 622.50,377.50 C621.08,382.55 619.17,389.00 617.50,396.30 C615.83,403.60 613.75,415.27 612.50,421.30 C611.25,427.33 611.00,426.88 610.00,432.50 C609.00,438.12 607.53,447.08 606.50,455.00 C605.47,462.92 604.78,472.70 603.80,480.00 C602.82,487.30 601.43,492.55 600.60,498.80 C599.77,505.05 599.32,510.22 598.80,517.50 C598.28,524.78 597.75,532.08 597.50,542.50 C597.25,552.92 597.00,570.00 597.30,580.00 C597.60,590.00 598.60,595.00 599.30,602.50 C600.00,610.00 600.63,617.50 601.50,625.00 C602.37,632.50 603.70,640.17 604.50,647.50 C605.30,654.83 606.00,665.42 606.30,669.00 C607,673 608,675.3 610,675.8 C613,676.8 619,676.5 622.5,674 C622.28,670.83 621.70,664.00 621.20,655.00 C620.70,646.00 620.02,632.50 619.50,620.00 C618.98,607.50 618.22,593.33 618.10,580.00 C617.98,566.67 618.53,550.00 618.80,540.00 C619.07,530.00 619.28,526.67 619.70,520.00 C620.12,513.33 620.65,506.67 621.30,500.00 C621.95,493.33 622.55,488.00 623.60,480.00 C624.65,472.00 626.43,459.72 627.60,452.00 C628.77,444.28 629.68,439.45 630.60,433.70 C631.52,427.95 632.27,422.28 633.10,417.50 C633.93,412.72 634.67,409.17 635.60,405.00 C636.53,400.83 637.55,397.00 638.70,392.50 C639.85,388.00 641.23,382.08 642.50,378.00 C643.77,373.92 645.08,372.17 646.30,368.00 C647.52,363.83 648.80,357.33 649.80,353.00 C650.80,348.67 651.43,346.00 652.30,342.00 C653.17,338.00 654.00,333.58 655.00,329.00 C656.00,324.42 657.75,316.92 658.30,314.50 C655,313 647,312.5 641.2,313.4 Z" fill="#fff" stroke-width="1.3"/>
<path d="M655.00,314.50 C654.45,316.92 652.70,324.42 651.70,329.00 C650.70,333.58 649.87,338.00 649.00,342.00 C648.13,346.00 647.50,348.67 646.50,353.00 C645.50,357.33 644.22,363.83 643.00,368.00 C641.78,372.17 640.47,373.92 639.20,378.00 C637.93,382.08 636.55,388.00 635.40,392.50 C634.25,397.00 633.23,400.83 632.30,405.00 C631.37,409.17 630.63,412.72 629.80,417.50 C628.97,422.28 628.22,427.95 627.30,433.70 C626.38,439.45 625.47,444.28 624.30,452.00 C623.13,459.72 621.35,472.00 620.30,480.00 C619.25,488.00 618.65,493.33 618.00,500.00 C617.35,506.67 616.82,513.33 616.40,520.00 C615.98,526.67 615.77,530.00 615.50,540.00 C615.23,550.00 614.68,566.67 614.80,580.00 C614.92,593.33 615.68,607.50 616.20,620.00 C616.72,632.50 617.35,645.83 617.90,655.00 C618.45,664.17 619.23,671.67 619.50,675.00" stroke-width="0.8" stroke="#333"/>
<path d="M645.00,340.00 C644.17,342.67 641.83,350.00 640.00,356.00 C638.17,362.00 636.00,369.00 634.00,376.00 C632.00,383.00 630.00,390.67 628.00,398.00 C626.00,405.33 623.83,412.17 622.00,420.00 C620.17,427.83 618.50,436.67 617.00,445.00 C615.50,453.33 614.17,460.83 613.00,470.00 C611.83,479.17 610.92,490.00 610.00,500.00 C609.08,510.00 608.17,520.00 607.50,530.00 C606.83,540.00 606.25,550.00 606.00,560.00 C605.75,570.00 605.75,580.00 606.00,590.00 C606.25,600.00 606.83,610.00 607.50,620.00 C608.17,630.00 609.25,641.67 610.00,650.00 C610.75,658.33 611.67,666.67 612.00,670.00" stroke="#777" stroke-width="0.7" stroke-dasharray="14,3,6,3"/>
<path d="M648.00,330.00 C647.17,333.33 644.83,343.00 643.00,350.00 C641.17,357.00 638.00,368.33 637.00,372.00" stroke="#777" stroke-width="0.7"/>
<path d="M626.00,420.00 C625.08,424.17 622.08,436.67 620.50,445.00 C618.92,453.33 617.58,460.83 616.50,470.00 C615.42,479.17 614.42,495.00 614.00,500.00" stroke="#777" stroke-width="0.7"/>
<circle cx="642.5" cy="376.5" r="1" fill="#111" stroke="none"/><circle cx="636" cy="404.5" r="1.1" fill="#111" stroke="none"/>
<path d="M641.2,313.4 C644,315.2 652,315.6 658.3,314.5" stroke-width="0.9"/>
<path d="M652.5,312 L660.5,313 L659,315.5 L653,315 Z" fill="#111" stroke-width="0.6"/>
<path d="M631.5,333 L639.5,330.8 C640.6,330.6 641.2,331.2 641.1,332.4 L640.5,339 C640.4,340 639.5,340.5 638.5,340.7 L631.5,341.5 C630.5,341.6 630,341 630.1,340 L630.4,334.5 C630.5,333.6 630.9,333.2 631.5,333 Z" fill="#fff" stroke-width="1.1"/>
<circle cx="633.6" cy="337" r="0.8" fill="#111" stroke="none"/><circle cx="636.6" cy="336.3" r="0.8" fill="#111" stroke="none"/>
<path d="M617,353.5 C620,351.2 632,350.6 635,352.5 L627.5,375 C625,377 621.5,377.3 619.5,376 Z" fill="#fff" stroke-width="1.2"/>
<path d="M617,353.5 C621,355 630,354.8 635,352.5" stroke-width="0.8"/>
<circle cx="618.5" cy="357" r="0.5" fill="#111" stroke="none"/><circle cx="620" cy="373" r="0.5" fill="#111" stroke="none"/>
<path d="M653.70,311.00 L710.00,287.60 L740.00,278.00 L752.00,276.60 L776.00,276.20" stroke-width="1.5"/>
<path d="M658.50,312.30 L740.00,281.00" stroke-width="0.9"/>
<path d="M661.00,313.60 L710.00,292.00" stroke-width="0.7" stroke="#444"/>
<path d="M660.00,314.00 L695.00,305.60 L715.00,300.20 L740.00,298.00 L770.00,293.70 L776.00,293.00" stroke-width="2.2"/>
<path d="M713.50,298.00 C714.00,296.92 715.08,293.00 716.50,291.50 C717.92,290.00 719.75,289.50 722.00,289.00 C724.25,288.50 721.00,288.73 730.00,288.50 C739.00,288.27 768.33,287.75 776.00,287.60" stroke-width="1.1"/>
<path d="M717.50,299.00 C718.00,298.08 719.08,294.75 720.50,293.50 C721.92,292.25 723.75,291.92 726.00,291.50 C728.25,291.08 725.67,291.20 734.00,291.00 C742.33,290.80 769.00,290.42 776.00,290.30" stroke-width="0.8"/>
<path d="M741,278.5 L741,288.5 M744.5,278 L744.5,287.8 M750.5,277 L750.5,287.5 M755,277 L755,287.4" stroke-width="0.9"/>
<path d="M741,278.5 C745,276 752,275.8 756,277" stroke-width="1.3"/>
<path d="M683,303.8 L692,302 L696,305.5 L695.5,309.7 L686.5,310.6 L683,307 Z" fill="#fff" stroke-width="1"/>
<path d="M694,296 L698,295 L698.5,301 L694.5,302 Z M700.5,294.5 L705,293.3 L705.5,299.5 L701,300.5 Z" fill="#fff" stroke-width="0.8"/>
<path d="M770,291.5 L776,290.5 L776,296 L770,296.5 Z" fill="#111" stroke-width="0.6"/>
<circle cx="677" cy="312.6" r="1.4" fill="#fff" stroke-width="1"/>
<path d="M658.70,321.90 C664.33,321.25 682.28,319.40 692.50,318.00 C702.72,316.60 712.08,314.58 720.00,313.50 C727.92,312.42 730.67,311.82 740.00,311.50 C749.33,311.18 770.00,311.58 776.00,311.60" stroke-width="1"/>
<path d="M657.50,327.50 C664.37,326.28 688.28,322.08 698.70,320.20 C709.12,318.32 713.12,317.23 720.00,316.20 C726.88,315.17 730.67,314.45 740.00,314.00 C749.33,313.55 770.00,313.58 776.00,313.50" stroke-width="1.3"/>
<path d="M700.00,315.30 L747.50,309.50 L776.00,309.30" stroke="#888" stroke-width="0.7"/>
<circle cx="692" cy="319.3" r="0.9" fill="#111" stroke="none"/>
<path d="M658.70,330.50 L701.20,320.50" stroke-width="1.1"/>
<path d="M657.50,345.00 L700.00,322.50" stroke-width="1.1"/>
<path d="M684,327.5 L692,325.8 L692.5,328 L684.5,329.6 Z" fill="#111" stroke-width="0.8"/>
<path d="M655,344.2 L661.5,342.6 L662.5,345 L656,346.4 Z" fill="#fff" stroke-width="1"/>
<path d="M659,329.5 L662,328.5 L661,332 Z" fill="#fff" stroke-width="0.9"/>
<path d="M699.40,320.00 C698.77,325.83 697.37,338.75 695.60,355.00 C693.83,371.25 690.25,400.83 688.80,417.50 C687.35,434.17 687.22,448.75 686.90,455.00" stroke-width="1.2"/>
<path d="M707.50,320.00 C706.67,325.83 704.25,340.83 702.50,355.00 C700.75,369.17 698.15,388.75 697.00,405.00 C695.85,421.25 695.83,444.58 695.60,452.50" stroke-width="1.2"/>
<path d="M709.40,319.40 C709.08,325.33 708.57,341.57 707.50,355.00 C706.43,368.43 703.93,387.50 703.00,400.00 C702.07,412.50 702.08,425.00 701.90,430.00" stroke-width="1.1"/>
<path d="M715.00,318.00 C714.17,324.17 711.67,341.33 710.00,355.00 C708.33,368.67 706.03,387.92 705.00,400.00 C703.97,412.08 704.00,422.92 703.80,427.50" stroke-width="1.2"/>
<path d="M702,365.5 L709.5,363.8 L710,367.2 L702.5,369 Z M698.8,385.5 L707.5,383.5 L708,387.4 L699.3,389.4 Z" fill="#fff" stroke-width="0.9"/>
<path d="M709.5,369.5 C713,368 715.5,369.5 714.5,372 L710,373.7" stroke-width="0.9"/>
<path d="M697,376.5 C694.8,378 695,381 697,382 M697,382 C695,383 695,385 697,386" stroke-width="0.9"/>
<ellipse cx="701.9" cy="437.5" rx="2.2" ry="3.2" fill="#fff" stroke-width="1.1"/><circle cx="701.9" cy="437.5" r="1" fill="#111" stroke="none"/>
<circle cx="693" cy="439.4" r="0.6" fill="#111" stroke="none"/><circle cx="706" cy="335" r="0.6" fill="#111" stroke="none"/><circle cx="704.5" cy="346" r="0.7" fill="#111" stroke="none"/>
<path d="M736.20,315.00 C735.68,323.33 734.13,348.67 733.10,365.00 C732.07,381.33 730.52,405.00 730.00,413.00" stroke-width="1.2"/>
<path d="M738.70,315.00 C738.18,323.33 736.63,349.38 735.60,365.00 C734.57,380.62 733.02,401.42 732.50,408.70" stroke-width="1.1"/>
<path d="M730.50,413.00 L731.00,432.50" stroke-width="1.1"/>
<path d="M751.90,313.80 C751.25,321.50 749.07,345.63 748.00,360.00 C746.93,374.37 746.20,389.27 745.50,400.00 C744.80,410.73 744.08,420.33 743.80,424.40" stroke-width="1.2"/>
<rect x="738.3" y="317.2" width="6" height="6" rx="1" fill="#fff" stroke-width="1"/><circle cx="741.3" cy="320.2" r="1" fill="#111" stroke="none"/>
<rect x="732" y="398.5" width="6" height="6.5" rx="1" fill="#fff" stroke-width="1"/><circle cx="734.5" cy="401.7" r="0.9" fill="#111" stroke="none"/>
<path d="M749,331.3 L755.5,331.8 L755.3,334.6 L748.8,334.1 Z" fill="#fff" stroke-width="1"/>
<path d="M703.80,428.00 L730.00,413.80" stroke-width="1.1"/>
<path d="M714.40,433.00 L735.00,424.40" stroke-width="1"/>
<path d="M701.90,448.00 L736.30,428.80" stroke-width="1.1"/>
<path d="M743.80,424.40 L776.00,422.80" stroke-width="1.1"/>
<path d="M741.30,427.20 L776.00,430.50" stroke-width="1.1"/>
<path d="M737,425.5 L742.5,425 L742.5,437.5 L737.3,437.5 Z" fill="#fff" stroke-width="1"/>
<path d="M758,433 L764,433 L764.2,448.5 L760.3,448.5 L760,437 L758,436.5 Z" fill="#fff" stroke-width="1"/>
<ellipse cx="749.5" cy="442.6" rx="3.4" ry="1.2" fill="#111" stroke="none"/>
<path d="M746.30,388.70 C747.55,389.97 753.60,393.58 753.80,396.30 C754.00,399.02 747.92,402.50 747.50,405.00 C747.08,407.50 749.63,409.63 751.30,411.30 C752.97,412.97 755.72,414.88 757.50,415.00 C759.28,415.12 760.75,412.83 762.00,412.00 C763.25,411.17 763.67,410.33 765.00,410.00 C766.33,409.67 768.17,409.33 770.00,410.00 C771.83,410.67 775.00,413.33 776.00,414.00" stroke-width="1.1"/>
<path d="M608.50,440.00 C605.75,441.00 596.75,444.12 592.00,446.00 C587.25,447.88 583.08,449.72 580.00,451.30 C576.92,452.88 574.95,453.47 573.50,455.50 C572.05,457.53 571.57,459.42 571.30,463.50 C571.03,467.58 571.53,471.42 571.90,480.00 C572.27,488.58 572.98,504.00 573.50,515.00 C574.02,526.00 573.25,538.50 575.00,546.00 C576.75,553.50 580.33,555.50 584.00,560.00 C587.67,564.50 594.83,570.83 597.00,573.00" stroke-width="1.3"/>
<path d="M607.50,447.50 C605.25,448.42 598.25,451.33 594.00,453.00 C589.75,454.67 584.67,456.17 582.00,457.50 C579.33,458.83 578.83,459.42 578.00,461.00 C577.17,462.58 577.00,463.83 577.00,467.00 C577.00,470.17 577.58,472.00 578.00,480.00 C578.42,488.00 579.07,504.17 579.50,515.00 C579.93,525.83 579.18,538.17 580.60,545.00 C582.02,551.83 585.27,552.83 588.00,556.00 C590.73,559.17 595.50,562.67 597.00,564.00" stroke-width="1.3"/>
<path d="M565,474.3 L571,473.8 L571.3,480 L565.3,480.4 Z M577,474 L583.5,473.7 L583.8,479.8 L577.3,480.2 Z" fill="#fff" stroke-width="1"/>
<circle cx="567" cy="477" r="0.8" fill="#111" stroke="none"/><circle cx="581" cy="477" r="0.8" fill="#111" stroke="none"/>
<path d="M614.4,543 L667.5,553.8 L666.3,563.8 L614.4,552.5 Z" fill="#fff" stroke-width="1.2"/>
<path d="M614.4,543 L667.5,553.8" stroke-width="2"/>
<path d="M618.8,543.5 L618.8,528 L623.8,528 L623.8,544.5" fill="#fff" stroke-width="1"/>
<path d="M646.00,622.00 C646.50,618.33 648.00,607.00 649.00,600.00 C650.00,593.00 650.92,586.67 652.00,580.00 C653.08,573.33 654.33,566.67 655.50,560.00 C656.67,553.33 657.92,546.67 659.00,540.00 C660.08,533.33 660.75,525.00 662.00,520.00 C663.25,515.00 665.17,513.67 666.50,510.00 C667.83,506.33 668.75,501.67 670.00,498.00 C671.25,494.33 672.50,491.83 674.00,488.00 C675.50,484.17 677.33,479.00 679.00,475.00 C680.67,471.00 682.58,467.33 684.00,464.00 C685.42,460.67 686.92,456.50 687.50,455.00" stroke-width="1.3"/>
<path d="M653.00,627.00 C653.42,623.33 654.58,612.00 655.50,605.00 C656.42,598.00 657.42,591.67 658.50,585.00 C659.58,578.33 660.83,571.67 662.00,565.00 C663.17,558.33 664.33,551.67 665.50,545.00 C666.67,538.33 668.08,530.00 669.00,525.00 C669.92,520.00 670.17,518.83 671.00,515.00 C671.83,511.17 672.83,506.17 674.00,502.00 C675.17,497.83 676.67,493.67 678.00,490.00 C679.33,486.33 680.33,483.33 682.00,480.00 C683.67,476.67 686.00,473.17 688.00,470.00 C690.00,466.83 691.33,464.50 694.00,461.00 C696.67,457.50 699.67,452.33 704.00,449.00 C708.33,445.67 714.67,443.17 720.00,441.00 C725.33,438.83 731.33,437.17 736.00,436.00 C740.67,434.83 746.00,434.33 748.00,434.00" stroke-width="1.3"/>
<path d="M699.00,474.00 C700.17,472.33 703.67,466.83 706.00,464.00 C708.33,461.17 709.83,460.00 713.00,457.00 C716.17,454.00 721.17,449.17 725.00,446.00 C728.83,442.83 734.17,439.33 736.00,438.00" stroke-width="1"/>
<path d="M623.00,653.00 L646.50,622.50" stroke-width="1.2"/>
<path d="M627.50,662.00 L653.00,627.00" stroke-width="1.2"/>
<path d="M623,637 C623,629 627,625 632,624.6 L646,624.5" stroke-width="1.1"/>
<path d="M622.50,662.50 L696.50,690.00" stroke-width="1.2"/>
<path d="M625.00,675.50 L692.50,699.00" stroke-width="1.2"/>
<path d="M692.50,690.50 L692.50,699.00 L697.50,697.30 L697.50,688.50" stroke-width="1.2"/>
<path d="M640.5,679 L648.5,681.5 L648,683 L640,680.5 Z" fill="#111" stroke-width="0.8"/>
<path d="M601.5,652.5 C598.5,654 598.5,661 602,662.5" stroke-width="1.1"/>
<path d="M669.50,686.00 C669.47,675.00 669.35,640.17 669.30,620.00 C669.25,599.83 669.03,576.83 669.20,565.00 C669.37,553.17 669.58,553.08 670.30,549.00 C671.02,544.92 671.97,542.97 673.50,540.50 C675.03,538.03 676.75,535.92 679.50,534.20 C682.25,532.48 685.75,531.13 690.00,530.20 C694.25,529.27 697.72,528.50 705.00,528.60 C712.28,528.70 723.28,529.50 733.70,530.80 C744.12,532.10 760.37,534.95 767.50,536.40 C774.63,537.85 775.00,538.98 776.50,539.50" stroke-width="1.3"/>
<path d="M673.00,686.00 C672.97,675.00 672.83,640.17 672.80,620.00 C672.77,599.83 672.63,576.33 672.80,565.00 C672.97,553.67 673.02,555.42 673.80,552.00 C674.58,548.58 675.72,546.62 677.50,544.50 C679.28,542.38 681.58,540.62 684.50,539.30 C687.42,537.98 690.75,537.20 695.00,536.60 C699.25,536.00 703.55,535.45 710.00,535.70 C716.45,535.95 722.62,536.28 733.70,538.10 C744.78,539.92 769.37,545.18 776.50,546.60" stroke-width="1.2"/>
<path d="M676.50,686.00 C676.47,675.00 676.33,639.67 676.30,620.00 C676.27,600.33 676.13,578.42 676.30,568.00 C676.47,557.58 676.60,560.42 677.30,557.50 C678.00,554.58 678.80,552.50 680.50,550.50 C682.20,548.50 684.58,546.82 687.50,545.50 C690.42,544.18 693.92,543.20 698.00,542.60 C702.08,542.00 706.05,541.33 712.00,541.90 C717.95,542.47 722.95,544.00 733.70,546.00 C744.45,548.00 769.37,552.58 776.50,553.90" stroke-width="1.3"/>
<path d="M690.00,539.00 L700.00,540.50" stroke="#777" stroke-width="0.6"/>
<circle cx="765.8" cy="536.6" r="1.6" fill="#111" stroke="none"/><circle cx="774.8" cy="538.8" r="1.3" fill="#111" stroke="none"/><circle cx="773.7" cy="521.8" r="1" fill="#111" stroke="none"/>
<path d="M766.5,535.5 L775.5,529 M768.5,527 L772,528.3" stroke-width="1"/>
<path d="M732.6,530 L738.5,522 M738.5,522 L741,521 L742,525 L739,526 Z" fill="#fff" stroke-width="1"/>
<path d="M697.5,686.5 L697.5,567.5 C697.5,565.5 698.5,564.8 700,564.8 L715,566.5 L718,572 L718,604 L730,610 L730,575 L740,572.5" stroke-width="1.2"/>
<path d="M740,572.5 L776,580.5 M732,606 L776,615.5 M718,572 L740,577" stroke-width="1.1"/>
<path d="M711,588 C713,580 716,575 718,572 M700,620 L712,623" stroke-width="1"/>
<path d="M700,690 L720,685 L735,680 L740,682.5 L776,694 M740,678.7 L776,690" stroke-width="1.1"/>
<path d="M720,619 L733,615.5 L740,618 L727,622.5 Z M724,617.6 L729,621.5 M729,616.2 L734,620" stroke-width="0.9"/>
<path d="M711,674 L727,675.5" stroke-width="1.6"/>
<ellipse cx="728" cy="675.6" rx="2.5" ry="1.3" fill="#fff" stroke-width="0.8"/>
<path d="M735.5,605 L742,602.5" stroke-width="1.6"/>
<circle cx="693.5" cy="570" r="1.5" fill="#fff" stroke-width="1.6"/>
<circle cx="693.5" cy="598.7" r="1.5" fill="#fff" stroke-width="1.6"/>
<circle cx="693.5" cy="643.7" r="1.5" fill="#fff" stroke-width="1.6"/>
<circle cx="693.5" cy="668.7" r="1.5" fill="#fff" stroke-width="1.6"/>
<circle cx="693.5" cy="678.7" r="1.5" fill="#fff" stroke-width="1.6"/>
<circle cx="687.5" cy="586.3" r="0.9" fill="#111" stroke="none"/>
<circle cx="687.5" cy="630" r="0.9" fill="#111" stroke="none"/>
<circle cx="687.5" cy="575.5" r="0.9" fill="#111" stroke="none"/>
<circle cx="714" cy="555" r="0.9" fill="#111" stroke="none"/>
<circle cx="710" cy="643" r="0.9" fill="#111" stroke="none"/>
<circle cx="730" cy="645" r="0.9" fill="#111" stroke="none"/>
<circle cx="706" cy="561" r="1.5" fill="#fff" stroke-width="1.1"/><circle cx="752.5" cy="553.7" r="1.9" fill="#fff" stroke-width="1.1"/><circle cx="752.5" cy="571" r="1.6" fill="#fff" stroke-width="1.1"/>
<path d="M674.5,497 L700.5,503 L700.5,515 L677,510 Z" fill="#fff" stroke-width="1.1"/>
<circle cx="696.5" cy="505.5" r="0.7" fill="#111" stroke="none"/><circle cx="696.5" cy="511.5" r="0.7" fill="#111" stroke="none"/>
<path d="M683,484 L688,483 L689,496 L684,497 Z M690,483 L697,481 L699,487 L695,490 L697,496 L692,497 Z M697,488 L705,486 L707,490 L702,493 L706,496 L700,499" fill="#fff" stroke-width="1"/>
<path d="M693,476 L702,474 L703,479 L694,481 Z" fill="#fff" stroke-width="0.9"/>
<path d="M674,496 C672,494 673,490 676,491 C678,492 677,495 674,496" fill="#fff" stroke-width="1"/>
<path d="M677,510 L682,517 L683,512" stroke-width="0.9"/>
<path d="M718,494 C722,490 726,491 728,486 L730,481 L733,483 L733,490 C733,494 731,497 728,498 L728,503 C727,507 724,503 722,508 L727,514 L726,516 C722,515 717,513 715,509 C714,506 716,504 719,503 L718,498 Z" fill="#fff" stroke-width="1"/>
<path d="M714,457 L721,448 L729,447.5 L726.5,452 L730.5,453 L727,459.5 L720,461 L723.5,454 Z" fill="#fff" stroke-width="1.1"/>
<path d="M740,510 L750,502 L753,503 L753,509 L744,516 L743,522 L739,523 L738,516 Z" fill="#fff" stroke-width="1"/>
<path d="M757,488 L776,490 M757,488 L757.5,495 L776,499 M764,488 L776,479 M770,486 C772,484 774,484 775,485" stroke-width="1.1"/>
<circle cx="768" cy="494" r="1.3" fill="#111" stroke="none"/><circle cx="762" cy="492.5" r="0.6" fill="#111" stroke="none"/>
<path d="M730.00,527.50 C730.67,526.08 732.33,521.50 734.00,519.00 C735.67,516.50 737.33,515.67 740.00,512.50 C742.67,509.33 746.33,504.08 750.00,500.00 C753.67,495.92 757.67,491.75 762.00,488.00 C766.33,484.25 773.67,479.25 776.00,477.50" stroke-width="1.1"/>
<path d="M741.00,436.00 C742.83,436.50 748.50,437.58 752.00,439.00 C755.50,440.42 759.17,442.67 762.00,444.50 C764.83,446.33 767.00,448.08 769.00,450.00 C771.00,451.92 772.83,454.17 774.00,456.00 C775.17,457.83 775.67,460.17 776.00,461.00" stroke-width="1.1"/>
<path d="M760,521 L765,520 M770,508 L774,506 M766,536 L775,533" stroke-width="1.3"/>
<path d="M715,566 C718,560 721,553 722,548" stroke-width="0.6" stroke="#888"/>
</g>
<g fill="none" stroke="#111" stroke-width="1.3" stroke-linejoin="round" stroke-linecap="round">
<!-- plates 10 / 11 -->
<path d="M497,314.8 L508,310.4 Q510.8,309.5 510.8,312.5 L510.6,315.3 Q510.4,317 508.5,317.8 L497.5,322.3 Q494.8,323.2 494.8,320.5 L494.9,317.5 Q495,315.6 497,314.8 Z" transform="translate(0 0)" fill="#fff" stroke-width="1.6"/><circle cx="497.3" cy="318.3" r="0.7" fill="#111" stroke="none"/><circle cx="508.3" cy="313.9" r="0.7" fill="#111" stroke="none"/>
<path d="M497,314.8 L508,310.4 Q510.8,309.5 510.8,312.5 L510.6,315.3 Q510.4,317 508.5,317.8 L497.5,322.3 Q494.8,323.2 494.8,320.5 L494.9,317.5 Q495,315.6 497,314.8 Z" transform="translate(26.1 4.7)" fill="#fff" stroke-width="1.3"/><circle cx="523.4" cy="323.0" r="0.7" fill="#111" stroke="none"/><circle cx="534.4" cy="318.59999999999997" r="0.7" fill="#111" stroke="none"/>
<path d="M503.5,400.5 L514.5,395.4 Q517.6,394.4 517.6,397.8 L517.4,401 Q517.2,403 515.2,403.7 L504.5,408.3 Q501.8,409.2 501.9,406 L502,402.8 Q502.2,401.2 503.5,400.5 Z" fill="#fff" stroke-width="1.6"/><circle cx="514.4" cy="399.5" r="0.8" fill="#111" stroke="none"/><circle cx="504" cy="404.5" r="0.6" fill="#111" stroke="none"/>
<!-- bolts & washers upper -->
<path d="M549,327.3 L552,327.9" stroke-width="2.2"/><circle cx="553.3" cy="328" r="2.4" fill="#111" stroke="none"/>
<path d="M558,323.3 L561,323.9" stroke-width="2.2"/><circle cx="562.5" cy="324" r="2.4" fill="#111" stroke="none"/>
<ellipse cx="578.5" cy="332.3" rx="1.8" ry="2.1" fill="#fff" stroke-width="1.6"/>
<ellipse cx="587.7" cy="328.5" rx="1.8" ry="2.1" fill="#fff" stroke-width="1.6"/>
<path d="M560,411.6 L563,412.2" stroke-width="2.2"/><circle cx="564.3" cy="412.3" r="2.4" fill="#111" stroke="none"/>
<path d="M569.5,406 L572.5,406.6" stroke-width="2.2"/><circle cx="573.8" cy="406.6" r="2.4" fill="#111" stroke="none"/>
<ellipse cx="587" cy="415.6" rx="1.8" ry="2.1" fill="#fff" stroke-width="1.6"/>
<ellipse cx="596.6" cy="410" rx="1.8" ry="2.1" fill="#fff" stroke-width="1.6"/>
<!-- screws row -->
<path d="M297.5,442 L302.5,443.1" stroke-width="1.7"/><path d="M297,440.8 L296.6,443.4" stroke-width="2"/>
<ellipse cx="320.3" cy="447.2" rx="2.4" ry="3" fill="#111" stroke="none"/>
<ellipse cx="343.2" cy="451.4" rx="2.5" ry="3" fill="#fff" stroke-width="1.7"/><circle cx="343" cy="451.6" r="0.5" fill="#111" stroke="none"/>
<ellipse cx="460" cy="475" rx="2" ry="2.6" fill="#fff" stroke-width="1.6"/>
<path d="M290.3,506 L296.5,507.2" stroke-width="2"/>
<ellipse cx="314" cy="512.2" rx="2.3" ry="3" fill="#111" stroke="none"/>
<ellipse cx="336.2" cy="518" rx="2" ry="2.5" fill="#fff" stroke-width="1.5"/>
<ellipse cx="457.2" cy="549" rx="2" ry="2.7" fill="#fff" stroke-width="1.5"/>
<!-- handle 14 -->
<defs><path id="h14" d="M490,440 L490,546 Q490,556 481,556 L477.5,555"/></defs>
<use href="#h14" stroke-width="5.2"/>
<use href="#h14" stroke="#fff" stroke-width="2.8"/>
<ellipse cx="476.5" cy="554.3" rx="1.8" ry="3" stroke-width="1.6" fill="#fff"/>
<path d="M480,476.6 L487.5,477.6 L487.5,480.6 L480,479.8" fill="#fff" stroke-width="1.1"/><ellipse cx="479" cy="478.2" rx="1.9" ry="3.2" fill="#fff" stroke-width="1.6"/>
<!-- handle 19 -->
<defs><path id="h19" d="M480,445 L537.5,394.5 Q540.5,392 543,395 L546,400 Q547.5,403.5 543.5,405.2 L537,407.5"/></defs>
<use href="#h19" stroke-width="5.2"/>
<use href="#h19" stroke="#fff" stroke-width="2.8"/>
<ellipse cx="479.3" cy="446.2" rx="2.7" ry="2.3" transform="rotate(-40 479.3 446.2)" fill="#fff" stroke-width="1.2"/>
<path d="M531,405.5 L537,403.5 Q540.5,403 540,406.5 L536,410.5 Q531.5,412 530.5,409 Z" fill="#fff" stroke-width="1.1"/><circle cx="533.5" cy="408" r="0.7" fill="#111" stroke="none"/>
<circle cx="541.6" cy="408.6" r="2.2" fill="#111" stroke="none"/>
<ellipse cx="545.2" cy="422.6" rx="1.3" ry="2.2" fill="#111" stroke="none"/>

<circle cx="765.5" cy="346.6" r="1.5" fill="#111" stroke="none"/>

</g>
<g>
<rect x="410.30" y="35.80" width="13.00" height="16.30" fill="#c4c4c4" filter="url(#blur)"/><rect x="408.50" y="34.00" width="13.00" height="16.30" fill="#5ac8de"/><path d="M3.25,0.00 L5.13,0.00 L5.13,-8.45 L3.89,-8.45 L3.54,-7.88 L2.77,-7.22 L1.59,-6.51 L0.53,-6.04 L0.53,-4.60 L1.77,-5.14 L2.66,-5.69 L3.25,-6.14 Z" transform="translate(409.95 44.70) scale(0.9 1)" fill="#fff"/>
<rect x="381.10" y="99.30" width="12.50" height="15.70" fill="#c4c4c4" filter="url(#blur)"/><rect x="379.30" y="97.50" width="12.50" height="15.70" fill="#404040"/><text transform="translate(380.75 108.20) scale(0.9 1)" class="lt">2</text>
<rect x="434.20" y="99.30" width="19.00" height="15.70" fill="#c4c4c4" filter="url(#blur)"/><rect x="432.40" y="97.50" width="19.00" height="15.70" fill="#5ac8de"/><text transform="translate(433.85 108.20) scale(0.9 1)" class="lt">2</text><text transform="translate(439.95 108.20) scale(0.9 1)" class="lt">5</text>
<rect x="280.80" y="223.80" width="13.00" height="15.80" fill="#c4c4c4" filter="url(#blur)"/><rect x="279.00" y="222.00" width="13.00" height="15.80" fill="#404040"/><text transform="translate(280.45 232.70) scale(0.9 1)" class="lt">6</text>
<rect x="271.80" y="253.80" width="13.00" height="15.80" fill="#c4c4c4" filter="url(#blur)"/><rect x="270.00" y="252.00" width="13.00" height="15.80" fill="#404040"/><text transform="translate(271.45 262.70) scale(0.9 1)" class="lt">8</text>
<rect x="245.80" y="280.30" width="12.50" height="15.60" fill="#c4c4c4" filter="url(#blur)"/><rect x="244.00" y="278.50" width="12.50" height="15.60" fill="#404040"/><text transform="translate(245.45 289.20) scale(0.9 1)" class="lt">7</text>
<rect x="275.80" y="317.80" width="12.50" height="15.80" fill="#c4c4c4" filter="url(#blur)"/><rect x="274.00" y="316.00" width="12.50" height="15.80" fill="#404040"/><text transform="translate(275.45 326.70) scale(0.9 1)" class="lt">3</text>
<rect x="258.80" y="348.10" width="12.70" height="15.90" fill="#c4c4c4" filter="url(#blur)"/><rect x="257.00" y="346.30" width="12.70" height="15.90" fill="#404040"/><text transform="translate(258.45 357.00) scale(0.9 1)" class="lt">5</text>
<rect x="249.90" y="397.40" width="12.80" height="15.30" fill="#c4c4c4" filter="url(#blur)"/><rect x="248.10" y="395.60" width="12.80" height="15.30" fill="#404040"/><text transform="translate(249.55 406.30) scale(0.9 1)" class="lt">4</text>
<rect x="347.40" y="323.05" width="12.50" height="15.30" fill="#c4c4c4" filter="url(#blur)"/><rect x="345.60" y="321.25" width="12.50" height="15.30" fill="#404040"/><text transform="translate(347.05 331.95) scale(0.9 1)" class="lt">9</text>
<rect x="331.30" y="411.80" width="13.00" height="15.60" fill="#c4c4c4" filter="url(#blur)"/><rect x="329.50" y="410.00" width="13.00" height="15.60" fill="#404040"/><text transform="translate(330.95 420.70) scale(0.9 1)" class="lt">9</text>
<rect x="79.70" y="317.80" width="18.40" height="15.55" fill="#c4c4c4" filter="url(#blur)"/><rect x="77.90" y="316.00" width="18.40" height="15.55" fill="#404040"/><text transform="translate(79.35 326.70) scale(0.9 1)" class="lt">3</text><text transform="translate(85.45 326.70) scale(0.9 1)" class="lt">0</text>
<rect x="20.20" y="392.20" width="18.70" height="15.90" fill="#c4c4c4" filter="url(#blur)"/><rect x="18.40" y="390.40" width="18.70" height="15.90" fill="#404040"/><text transform="translate(19.85 401.10) scale(0.9 1)" class="lt">3</text><text transform="translate(25.95 401.10) scale(0.9 1)" class="lt">2</text>
<rect x="16.80" y="481.10" width="18.30" height="15.60" fill="#c4c4c4" filter="url(#blur)"/><rect x="15.00" y="479.30" width="18.30" height="15.60" fill="#404040"/><text transform="translate(16.45 490.00) scale(0.9 1)" class="lt">2</text><text transform="translate(22.55 490.00) scale(0.9 1)" class="lt">9</text>
<rect x="37.90" y="474.90" width="18.30" height="15.80" fill="#c4c4c4" filter="url(#blur)"/><rect x="36.10" y="473.10" width="18.30" height="15.80" fill="#404040"/><text transform="translate(37.55 483.80) scale(0.9 1)" class="lt">2</text><text transform="translate(43.65 483.80) scale(0.9 1)" class="lt">8</text>
<rect x="64.80" y="468.40" width="18.25" height="15.70" fill="#c4c4c4" filter="url(#blur)"/><rect x="63.00" y="466.60" width="18.25" height="15.70" fill="#404040"/><text transform="translate(64.45 477.30) scale(0.9 1)" class="lt">2</text><text transform="translate(70.55 477.30) scale(0.9 1)" class="lt">7</text>
<rect x="87.90" y="461.90" width="17.90" height="15.80" fill="#c4c4c4" filter="url(#blur)"/><rect x="86.10" y="460.10" width="17.90" height="15.80" fill="#404040"/><text transform="translate(87.55 470.80) scale(0.9 1)" class="lt">3</text><path d="M3.25,0.00 L5.13,0.00 L5.13,-8.45 L3.89,-8.45 L3.54,-7.88 L2.77,-7.22 L1.59,-6.51 L0.53,-6.04 L0.53,-4.60 L1.77,-5.14 L2.66,-5.69 L3.25,-6.14 Z" transform="translate(93.65 470.80) scale(0.9 1)" fill="#fff"/>
<rect x="459.05" y="242.90" width="18.60" height="15.80" fill="#c4c4c4" filter="url(#blur)"/><rect x="457.25" y="241.10" width="18.60" height="15.80" fill="#404040"/><text transform="translate(458.70 251.80) scale(0.9 1)" class="lt">2</text><text transform="translate(464.80 251.80) scale(0.9 1)" class="lt">3</text>
<rect x="494.00" y="345.90" width="18.20" height="15.70" fill="#c4c4c4" filter="url(#blur)"/><rect x="492.20" y="344.10" width="18.20" height="15.70" fill="#404040"/><path d="M3.25,0.00 L5.13,0.00 L5.13,-8.45 L3.89,-8.45 L3.54,-7.88 L2.77,-7.22 L1.59,-6.51 L0.53,-6.04 L0.53,-4.60 L1.77,-5.14 L2.66,-5.69 L3.25,-6.14 Z" transform="translate(493.65 354.80) scale(0.9 1)" fill="#fff"/><text transform="translate(499.75 354.80) scale(0.9 1)" class="lt">0</text>
<rect x="520.50" y="351.40" width="17.90" height="15.40" fill="#c4c4c4" filter="url(#blur)"/><rect x="518.70" y="349.60" width="17.90" height="15.40" fill="#404040"/><path d="M3.25,0.00 L5.13,0.00 L5.13,-8.45 L3.89,-8.45 L3.54,-7.88 L2.77,-7.22 L1.59,-6.51 L0.53,-6.04 L0.53,-4.60 L1.77,-5.14 L2.66,-5.69 L3.25,-6.14 Z" transform="translate(520.15 360.30) scale(0.9 1)" fill="#fff"/><path d="M3.25,0.00 L5.13,0.00 L5.13,-8.45 L3.89,-8.45 L3.54,-7.88 L2.77,-7.22 L1.59,-6.51 L0.53,-6.04 L0.53,-4.60 L1.77,-5.14 L2.66,-5.69 L3.25,-6.14 Z" transform="translate(526.25 360.30) scale(0.9 1)" fill="#fff"/>
<rect x="545.30" y="356.50" width="18.50" height="16.10" fill="#c4c4c4" filter="url(#blur)"/><rect x="543.50" y="354.70" width="18.50" height="16.10" fill="#5ac8de"/><text transform="translate(544.95 365.40) scale(0.9 1)" class="lt">2</text><text transform="translate(551.05 365.40) scale(0.9 1)" class="lt">4</text>
<rect x="570.00" y="362.00" width="19.30" height="15.80" fill="#c4c4c4" filter="url(#blur)"/><rect x="568.20" y="360.20" width="19.30" height="15.80" fill="#5ac8de"/><text transform="translate(569.65 370.90) scale(0.9 1)" class="lt">2</text><text transform="translate(575.75 370.90) scale(0.9 1)" class="lt">5</text>
<rect x="755.30" y="374.30" width="18.90" height="15.30" fill="#c4c4c4" filter="url(#blur)"/><rect x="753.50" y="372.50" width="18.90" height="15.30" fill="#404040"/><path d="M3.25,0.00 L5.13,0.00 L5.13,-8.45 L3.89,-8.45 L3.54,-7.88 L2.77,-7.22 L1.59,-6.51 L0.53,-6.04 L0.53,-4.60 L1.77,-5.14 L2.66,-5.69 L3.25,-6.14 Z" transform="translate(754.95 383.20) scale(0.9 1)" fill="#fff"/><text transform="translate(761.05 383.20) scale(0.9 1)" class="lt">3</text>
<rect x="469.20" y="416.80" width="18.20" height="15.90" fill="#c4c4c4" filter="url(#blur)"/><rect x="467.40" y="415.00" width="18.20" height="15.90" fill="#404040"/><path d="M3.25,0.00 L5.13,0.00 L5.13,-8.45 L3.89,-8.45 L3.54,-7.88 L2.77,-7.22 L1.59,-6.51 L0.53,-6.04 L0.53,-4.60 L1.77,-5.14 L2.66,-5.69 L3.25,-6.14 Z" transform="translate(468.85 425.70) scale(0.9 1)" fill="#fff"/><text transform="translate(474.95 425.70) scale(0.9 1)" class="lt">0</text>
<rect x="509.90" y="438.10" width="18.10" height="15.50" fill="#c4c4c4" filter="url(#blur)"/><rect x="508.10" y="436.30" width="18.10" height="15.50" fill="#404040"/><path d="M3.25,0.00 L5.13,0.00 L5.13,-8.45 L3.89,-8.45 L3.54,-7.88 L2.77,-7.22 L1.59,-6.51 L0.53,-6.04 L0.53,-4.60 L1.77,-5.14 L2.66,-5.69 L3.25,-6.14 Z" transform="translate(509.55 447.00) scale(0.9 1)" fill="#fff"/><text transform="translate(515.65 447.00) scale(0.9 1)" class="lt">9</text>
<rect x="284.00" y="533.80" width="19.60" height="16.10" fill="#c4c4c4" filter="url(#blur)"/><rect x="282.20" y="532.00" width="19.60" height="16.10" fill="#5ac8de"/><path d="M3.25,0.00 L5.13,0.00 L5.13,-8.45 L3.89,-8.45 L3.54,-7.88 L2.77,-7.22 L1.59,-6.51 L0.53,-6.04 L0.53,-4.60 L1.77,-5.14 L2.66,-5.69 L3.25,-6.14 Z" transform="translate(283.65 542.70) scale(0.9 1)" fill="#fff"/><text transform="translate(289.75 542.70) scale(0.9 1)" class="lt">5</text>
<rect x="305.80" y="542.00" width="18.00" height="15.60" fill="#c4c4c4" filter="url(#blur)"/><rect x="304.00" y="540.20" width="18.00" height="15.60" fill="#404040"/><path d="M3.25,0.00 L5.13,0.00 L5.13,-8.45 L3.89,-8.45 L3.54,-7.88 L2.77,-7.22 L1.59,-6.51 L0.53,-6.04 L0.53,-4.60 L1.77,-5.14 L2.66,-5.69 L3.25,-6.14 Z" transform="translate(305.45 550.90) scale(0.9 1)" fill="#fff"/><text transform="translate(311.55 550.90) scale(0.9 1)" class="lt">6</text>
<rect x="328.00" y="546.30" width="18.30" height="15.80" fill="#c4c4c4" filter="url(#blur)"/><rect x="326.20" y="544.50" width="18.30" height="15.80" fill="#404040"/><path d="M3.25,0.00 L5.13,0.00 L5.13,-8.45 L3.89,-8.45 L3.54,-7.88 L2.77,-7.22 L1.59,-6.51 L0.53,-6.04 L0.53,-4.60 L1.77,-5.14 L2.66,-5.69 L3.25,-6.14 Z" transform="translate(327.65 555.20) scale(0.9 1)" fill="#fff"/><text transform="translate(333.75 555.20) scale(0.9 1)" class="lt">7</text>
<rect x="447.80" y="578.30" width="18.20" height="15.60" fill="#c4c4c4" filter="url(#blur)"/><rect x="446.00" y="576.50" width="18.20" height="15.60" fill="#404040"/><path d="M3.25,0.00 L5.13,0.00 L5.13,-8.45 L3.89,-8.45 L3.54,-7.88 L2.77,-7.22 L1.59,-6.51 L0.53,-6.04 L0.53,-4.60 L1.77,-5.14 L2.66,-5.69 L3.25,-6.14 Z" transform="translate(447.45 587.20) scale(0.9 1)" fill="#fff"/><text transform="translate(453.55 587.20) scale(0.9 1)" class="lt">8</text>
<rect x="473.30" y="583.80" width="18.50" height="15.80" fill="#c4c4c4" filter="url(#blur)"/><rect x="471.50" y="582.00" width="18.50" height="15.80" fill="#404040"/><path d="M3.25,0.00 L5.13,0.00 L5.13,-8.45 L3.89,-8.45 L3.54,-7.88 L2.77,-7.22 L1.59,-6.51 L0.53,-6.04 L0.53,-4.60 L1.77,-5.14 L2.66,-5.69 L3.25,-6.14 Z" transform="translate(472.95 592.70) scale(0.9 1)" fill="#fff"/><text transform="translate(479.05 592.70) scale(0.9 1)" class="lt">4</text>
<rect x="485.6" y="241.1" width="12.3" height="15" fill="#c8c8c8" filter="url(#blur)"/>
<rect x="484.1" y="239.6" width="12.3" height="15" fill="#404040"/>
<text x="481" y="250.6" class="lt" clip-path="url(#clip23b)" style="text-anchor:start">2</text>
</g>
<text x="46.3" y="251.3" class="tx" font-size="13.2">A</text>
<text x="545.8" y="450.6" class="tx" font-size="12">A</text>
<text x="133.5" y="365.2" class="tx" font-size="13" textLength="56.3" lengthAdjust="spacingAndGlyphs">G865S02</text>
<text x="159" y="455" class="tx" font-size="13" textLength="55.8" lengthAdjust="spacingAndGlyphs">G865S02</text>
<path d="M410.3,104 C411.5,102.3 413,102.6 413.8,103.3 C414.8,104.2 416,104.5 416.7,102.8" fill="none" stroke="#111" stroke-width="1.5" stroke-linecap="round"/>
<circle cx="462.4" cy="247" r="26.3" fill="none" stroke="#14a0e0" stroke-width="4.5"/>
</svg>
</body></html>
